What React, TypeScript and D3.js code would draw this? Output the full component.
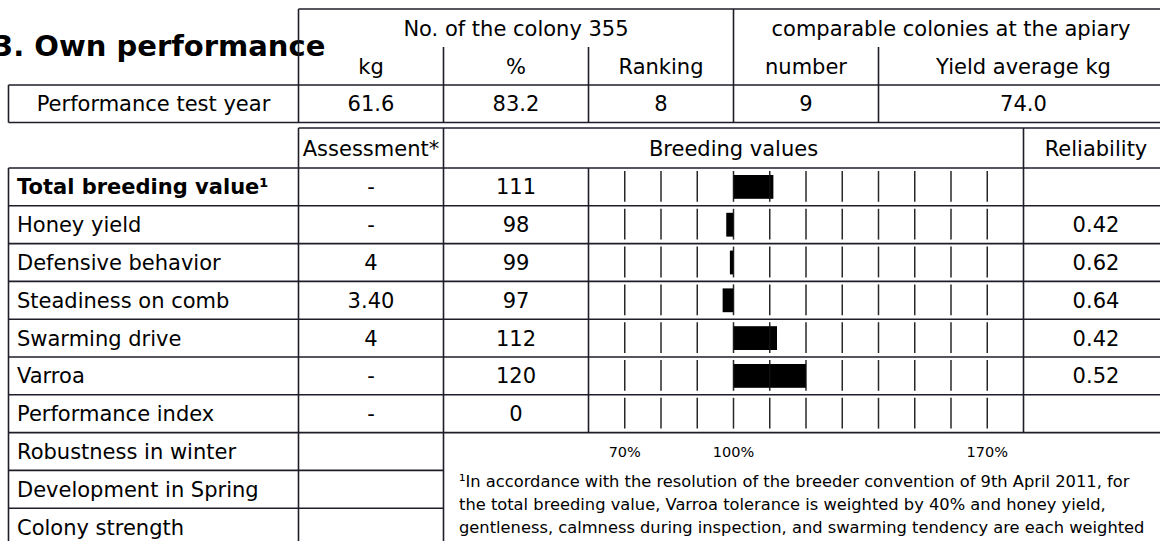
import React from "react";
import * as d3 from "d3";

const title = "3. Own performance";

const colonyHeader = "No. of the colony 355";
const apiaryHeader = "comparable colonies at the apiary";
const subHeaders = ["kg", "%", "Ranking", "number", "Yield average kg"];
const testYearLabel = "Performance test year";
const testYearValues = ["61.6", "83.2", "8", "9", "74.0"];

const traits = [
  "Total breeding value¹",
  "Honey yield",
  "Defensive behavior",
  "Steadiness on comb",
  "Swarming drive",
  "Varroa",
  "Performance index",
];
const assessments = ["-", "-", "4", "3.40", "4", "-", "-"];
const breedingValues = [111, 98, 99, 97, 112, 120, 0];
const reliabilities = ["", "0.42", "0.62", "0.64", "0.42", "0.52", ""];
const extraTraits = ["Robustness in winter", "Development in Spring", "Colony strength"];

const gridTicks = [70, 80, 90, 100, 110, 120, 130, 140, 150, 160, 170];
const labelTicks = [70, 100, 170];

const footnote = [
  "¹In accordance with the resolution of the breeder convention of 9th April 2011, for",
  "the total breeding value, Varroa tolerance is weighted by 40% and honey yield,",
  "gentleness, calmness during inspection, and swarming tendency are each weighted",
];

const W = 1160;
const H = 541;
const font = "DejaVu Sans";
const lineColor = "#1e1e2a";

export default function App() {
  // column grid: every column 145px wide, starting at x = 8
  const col = d3.scaleLinear().domain([0, 8]).range([8.5, 1168.5]);
  const allRows = d3.range(traits.length + extraTraits.length);
  const row = d3
    .scaleBand<number>()
    .domain(allRows)
    .range([168, 168 + allRows.length * 37.8]);
  const bv = d3.scaleLinear().domain([60, 180]).range([col(4), col(7)]);

  const topY = [9, 47, 85, 122.5];
  const tableTop = 128;
  const rh = row.bandwidth();
  const lastTraitBottom = row(traits.length - 1)! + rh;
  const bottom = row(allRows.length - 1)! + rh;

  const ln = (x1: number, y1: number, x2: number, y2: number, key: string) => (
    <line key={key} x1={x1} y1={y1} x2={x2} y2={y2} stroke={lineColor} strokeWidth={1.6} />
  );

  const txt = (s: string, x: number, y: number, anchor = "middle", extra: any = {}) => (
    <text x={x} y={y} textAnchor={anchor} fontSize={21} fill="#000" {...extra}>
      {s}
    </text>
  );

  const subCenters = [
    (col(2) + col(3)) / 2,
    (col(3) + col(4)) / 2,
    (col(4) + col(5)) / 2,
    (col(5) + col(6)) / 2,
    (col(6) + col(8)) / 2,
  ];

  return (
    <svg
      width={W}
      height={H}
      style={{ position: "absolute", left: 0, top: 0, background: "#fff" }}
      fontFamily={font}
    >
      <rect width={W} height={H} fill="#fff" />
      <text x={-7} y={56} fontSize={29} fontWeight="bold" fill="#000">
        {title}
      </text>

      {/* top table text */}
      {txt(colonyHeader, (col(2) + col(5)) / 2, 35.5)}
      {txt(apiaryHeader, (col(5) + col(8)) / 2, 35.5)}
      {subHeaders.map((s, i) => (
        <g key={"sh" + i}>{txt(s, subCenters[i], 73.5)}</g>
      ))}
      {txt(testYearLabel, (col(0) + col(2)) / 2, 111)}
      {testYearValues.map((s, i) => (
        <g key={"tv" + i}>{txt(s, subCenters[i], 111)}</g>
      ))}

      {/* top table lines */}
      {ln(col(2), topY[0], col(8), topY[0], "t0")}
      {ln(col(0), topY[2], col(8), topY[2], "t2")}
      {ln(col(0), topY[3], col(8), topY[3], "t3")}
      {ln(col(2), topY[0], col(2), topY[3], "v2")}
      {ln(col(5), topY[0], col(5), topY[3], "v5")}
      {ln(col(8), topY[0], col(8), topY[3], "v8")}
      {[3, 4, 6].map((c) => ln(col(c), topY[1], col(c), topY[3], "vs" + c))}
      {ln(col(0), topY[2], col(0), topY[3], "v0")}

      {/* second table header */}
      {txt("Assessment*", (col(2) + col(3)) / 2, 155.5)}
      {txt("Breeding values", (col(3) + col(7)) / 2, 155.5)}
      {txt("Reliability", (col(7) + col(8)) / 2, 155.5)}

      {/* bars */}
      {breedingValues.map((v, i) =>
        v > 0 ? (
          <rect
            key={"bar" + i}
            x={Math.min(bv(v), bv(100))}
            y={row(i)! + 7}
            width={Math.abs(bv(v) - bv(100))}
            height={rh - 14}
            fill="#000"
          />
        ) : null
      )}
      {traits.map((_, i) =>
        gridTicks.map((t) => (
          <line
            key={"g" + i + "-" + t}
            x1={bv(t)}
            x2={bv(t)}
            y1={row(i)! + 3}
            y2={row(i)! + rh - 4}
            stroke="#111"
            strokeOpacity={0.9}
            strokeWidth={1.5}
          />
        ))
      )}

      {/* trait rows */}
      {traits.map((t, i) => {
        const y = row(i)! + rh / 2 + 7.5;
        return (
          <g key={"r" + i}>
            {txt(t, 17, y, "start", i === 0 ? { fontWeight: "bold" } : {})}
            {txt(assessments[i], (col(2) + col(3)) / 2, y)}
            {txt(String(breedingValues[i]), (col(3) + col(4)) / 2, y)}
            {txt(reliabilities[i], (col(7) + col(8)) / 2, y)}
          </g>
        );
      })}
      {extraTraits.map((t, j) => {
        const i = traits.length + j;
        return <g key={"e" + j}>{txt(t, 17, row(i)! + rh / 2 + 7.5, "start")}</g>;
      })}

      {/* percent labels */}
      {labelTicks.map((t) => (
        <text key={"lt" + t} x={bv(t)} y={457} textAnchor="middle" fontSize={14.5} fill="#000">
          {t}%
        </text>
      ))}

      {/* footnote */}
      {footnote.map((s, i) => (
        <text key={"fn" + i} x={459} y={487 + i * 23} fontSize={16.3} fill="#000">
          {s}
        </text>
      ))}

      {/* second table lines */}
      {ln(col(2), tableTop, col(8), tableTop, "h0")}
      {ln(col(0), row(0)!, col(8), row(0)!, "h1")}
      {traits.map((_, i) => ln(col(0), row(i)! + rh, col(8), row(i)! + rh, "hr" + i))}
      {extraTraits.map((_, j) => {
        const y = row(traits.length + j)! + rh;
        return ln(col(0), y, col(3), y, "he" + j);
      })}
      {ln(col(0), row(0)!, col(0), bottom, "l0")}
      {ln(col(2), tableTop, col(2), bottom, "l2")}
      {ln(col(3), tableTop, col(3), bottom, "l3")}
      {ln(col(4), row(0)!, col(4), lastTraitBottom, "l4")}
      {ln(col(7), tableTop, col(7), lastTraitBottom, "l7")}
      {ln(col(8), tableTop, col(8), bottom, "l8")}
    </svg>
  );
}
